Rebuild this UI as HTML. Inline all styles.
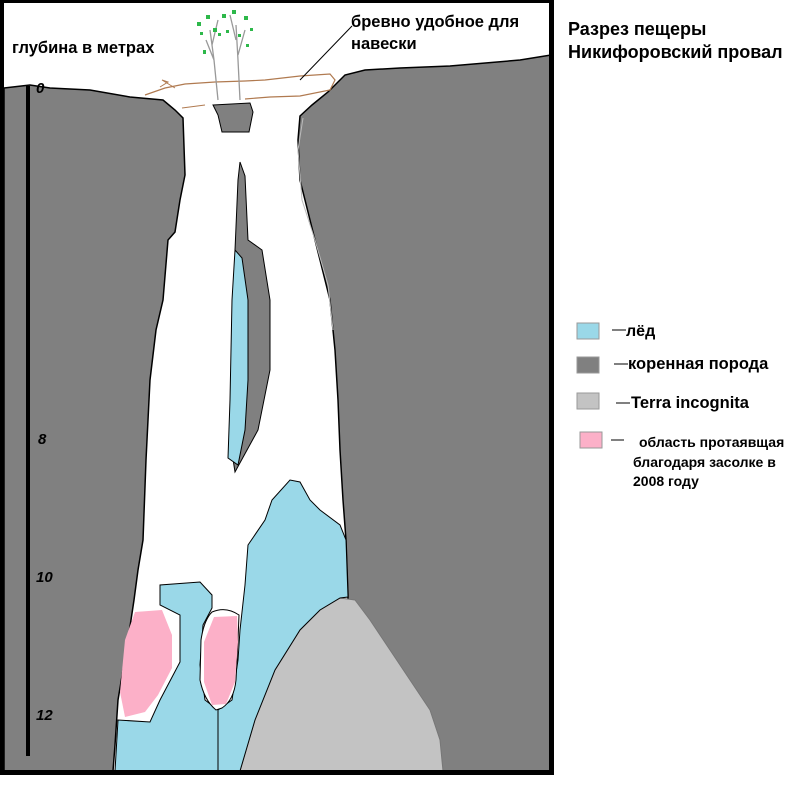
<!DOCTYPE html>
<html><head><meta charset="utf-8"><style>
body{margin:0;background:#fff}
svg{display:block}
text{font-family:"Liberation Sans",sans-serif;font-weight:bold;fill:#000}
</style></head><body>
<svg width="792" height="797" viewBox="0 0 792 797" xmlns="http://www.w3.org/2000/svg">
<rect width="792" height="797" fill="#fff"/>
<rect x="0" y="0" width="4" height="775" fill="#000"/>
<!-- left rock -->
<polygon points="4,88 30,85 50,88 90,90 130,97 163,100 175,110 183,118 185,175 180,200 175,232 168,240 163,300 156,330 150,380 146,460 143,540 138,570 134,600 128,640 118,700 115,745 113,771 4,771" fill="#808080" stroke="#000" stroke-width="1.5"/>
<!-- right rock -->
<polygon points="300,116 312,105 328,92 345,75 365,70 400,68 450,66 520,60 551,55 551,771 348,771 348,595 346,540 343,500 340,450 338,400 335,350 330,300 320,260 310,220 300,180 298,140" fill="#808080" stroke="#000" stroke-width="1.5"/>
<polyline points="303,118 298,150 302,200 315,240 328,285 333,330" fill="none" stroke="#bbb" stroke-width="1"/>
<!-- terra incognita -->
<polygon points="240,771 255,720 275,670 300,630 320,610 340,598 355,600 370,620 390,650 410,680 430,710 440,740 443,771" fill="#c3c3c3" stroke="#777" stroke-width="1"/>
<!-- ice -->
<polygon points="115,771 118,720 150,722 160,700 180,662 180,615 160,605 160,585 200,582 212,595 212,608 203,625 200,665 205,700 218,710 232,700 238,660 240,630 245,585 248,545 265,520 272,500 290,480 300,482 310,500 320,510 340,525 346,540 348,597 340,598 320,610 300,630 275,670 255,720 240,771" fill="#9ad8e8" stroke="#000" stroke-width="1"/>
<path d="M212,612 Q204,620 201,640 L200,680 Q204,700 216,710 L222,708 Q234,700 236,680 L238,640 L239,615 Q226,606 212,612 Z" fill="#fff" stroke="#000" stroke-width="1"/>
<line x1="218" y1="710" x2="218" y2="771" stroke="#000" stroke-width="1"/>
<!-- pink -->
<polygon points="135,612 162,610 172,635 172,668 158,695 145,712 125,717 120,692 125,640" fill="#fcb0c8"/>
<polygon points="214,617 237,616 238,642 235,682 226,704 212,705 204,682 204,642" fill="#fcb0c8"/>
<!-- central pillar -->
<polygon points="240,162 245,176 248,240 262,250 270,300 270,370 258,430 235,472 230,440 235,350 235,250 238,180" fill="#808080" stroke="#000" stroke-width="1"/>
<polygon points="235,250 242,258 248,300 248,380 245,430 238,465 228,458 230,400 232,300" fill="#9ad8e8" stroke="#000" stroke-width="1"/>
<!-- block under tree -->
<polygon points="213,105 250,103 253,112 249,132 222,132 218,115" fill="#808080" stroke="#000" stroke-width="1"/>
<!-- borders -->
<rect x="0" y="0" width="554" height="3" fill="#000"/>
<rect x="0" y="770" width="554" height="5" fill="#000"/>
<rect x="549" y="0" width="5" height="775" fill="#000"/>
<!-- log -->
<polyline points="145,95 165,88 185,84 215,82 245,81 265,80 300,76 330,74 335,80 330,90 300,96 270,97 245,99" fill="none" stroke="#b07a50" stroke-width="1.2"/>
<polyline points="160,87 168,82 162,80 175,88" fill="none" stroke="#b07a50" stroke-width="1"/>
<polyline points="182,108 205,105" fill="none" stroke="#b07a50" stroke-width="1"/>
<line x1="300" y1="80" x2="352" y2="26" stroke="#000" stroke-width="1"/>
<!-- trees -->
<g stroke="#999" stroke-width="1.3" fill="none">
<path d="M218,100 L214,60 L210,30 M214,60 L206,40 M212,45 L218,20"/>
<path d="M240,100 L238,60 L236,25 M238,55 L245,30 M236,40 L230,15"/>
</g>
<g fill="#2db84a">
<rect x="197" y="22" width="4" height="4"/><rect x="206" y="15" width="4" height="4"/><rect x="213" y="28" width="4" height="4"/><rect x="222" y="14" width="4" height="4"/><rect x="232" y="10" width="4" height="4"/><rect x="244" y="16" width="4" height="4"/><rect x="200" y="32" width="3" height="3"/><rect x="218" y="33" width="3" height="3"/><rect x="250" y="28" width="3" height="3"/><rect x="238" y="34" width="3" height="3"/><rect x="203" y="50" width="3" height="4"/><rect x="226" y="30" width="3" height="3"/><rect x="246" y="44" width="3" height="3"/>
</g>
<!-- depth scale -->
<rect x="26" y="86" width="4" height="670" fill="#000"/>
<g font-style="italic" font-size="15">
<text x="36" y="93">0</text><text x="38" y="444">8</text><text x="36" y="582">10</text><text x="36" y="720">12</text>
</g>
<text x="12" y="53" font-size="16.5" font-weight="normal">глубина  в метрах</text>
<text x="351" y="27" font-size="16.5" font-weight="normal">бревно удобное для</text>
<text x="351" y="49" font-size="16.5" font-weight="normal">навески</text>
<text x="568" y="35" font-size="18">Разрез пещеры</text>
<text x="568" y="58" font-size="18">Никифоровский провал</text>
<!-- legend -->
<rect x="577" y="323" width="22" height="16" fill="#9ad8e8" stroke="#999"/>
<rect x="577" y="357" width="22" height="16" fill="#808080" stroke="#999"/>
<rect x="577" y="393" width="22" height="16" fill="#c3c3c3" stroke="#999"/>
<rect x="580" y="432" width="22" height="16" fill="#fcb0c8" stroke="#999"/>
<g stroke="#000" stroke-width="1">
<line x1="612" y1="330" x2="626" y2="330"/><line x1="614" y1="364" x2="628" y2="364"/>
<line x1="616" y1="403" x2="630" y2="403"/><line x1="611" y1="440" x2="624" y2="440"/>
</g>
<text x="626" y="336" font-size="16">лёд</text>
<text x="628" y="369" font-size="16.5">коренная порода</text>
<text x="631" y="408" font-size="16.5">Terra incognita</text>
<text x="639" y="447" font-size="14">область протаявщая</text>
<text x="633" y="467" font-size="14">благодаря засолке в</text>
<text x="633" y="486" font-size="14">2008 году</text>
</svg>
</body></html>
